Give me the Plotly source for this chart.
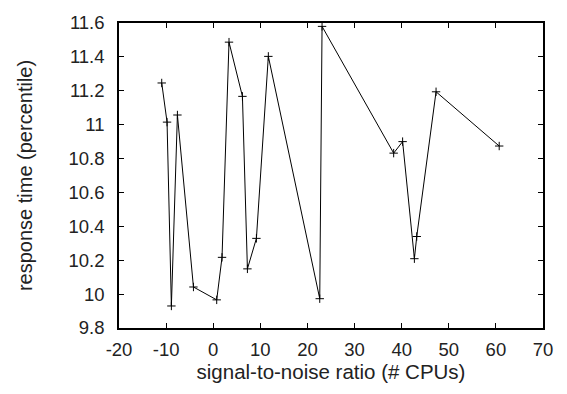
import plotly.graph_objects as go

snr = [-10.93, -9.8, -8.88, -7.6, -4.2, 0.74, 1.87, 3.35, 6.2, 7.26, 9.17, 11.7,
       22.61, 23.1, 38.3, 40.2, 42.7, 43.2, 47.3, 60.7]
resp = [11.246, 11.015, 9.93, 11.057, 10.042, 9.966, 10.217, 11.487, 11.167, 10.149,
        10.329, 11.403, 9.973, 11.58, 10.832, 10.90, 10.209, 10.34, 11.194, 10.874]

x_ticks = [-20, -10, 0, 10, 20, 30, 40, 50, 60, 70]
x_tick_text = ["-20", "-10", "0", "10", "20", "30", "40", "50", "60", "70"]
y_ticks = [9.8, 10.0, 10.2, 10.4, 10.6, 10.8, 11.0, 11.2, 11.4, 11.6]
y_tick_text = ["9.8", "10", "10.2", "10.4", "10.6", "10.8", "11", "11.2", "11.4", "11.6"]

FONT = "Liberation Sans, Arial, Helvetica, sans-serif"

fig = go.Figure(go.Scatter(
    x=snr, y=resp, mode="lines+markers",
    line=dict(color="black", width=1),
    marker=dict(symbol="cross-thin", size=6, line=dict(color="black", width=1), color="black"),
    showlegend=False,
))

axis_common = dict(
    showline=True, linecolor="black", linewidth=1.5, mirror="ticks",
    ticks="inside", ticklen=5, tickwidth=1, tickcolor="black",
    showgrid=False, zeroline=False,
    tickfont=dict(family=FONT, size=18.5, color="#222"),
)

fig.update_layout(
    width=567, height=394,
    margin=dict(l=119, r=24, t=13, b=66),
    paper_bgcolor="white", plot_bgcolor="white",
    xaxis=dict(range=[-20, 70], tickvals=x_ticks, ticktext=x_tick_text, ticklabelstandoff=4,
               title=dict(text="signal-to-noise ratio (# CPUs)", font=dict(family=FONT, size=20.5, color="#222"), standoff=6),
               **axis_common),
    yaxis=dict(range=[9.8, 11.6], tickvals=y_ticks, ticktext=y_tick_text, ticklabelstandoff=9,
               title=dict(text="response time (percentile)", font=dict(family=FONT, size=20, color="#222"), standoff=31),
               **axis_common),
)

fig.write_html("out.html")
